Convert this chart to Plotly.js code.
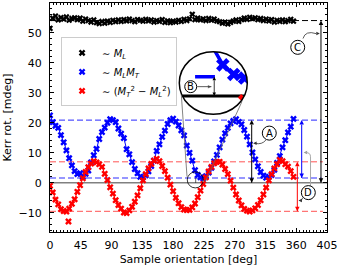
<!DOCTYPE html>
<html><head><meta charset="utf-8">
<script src="https://cdn.plot.ly/plotly-3.0.1.min.js"></script>
<style>html,body{margin:0;padding:0;background:#fff}#chart{width:340px;height:270px}</style>
</head><body><div id="chart"></div>
<script>
// ---- data ----
const angles = [0,4,8,12,16,20,24,28,32,36,40,44,48,52,56,60,64,68,72,76,80,84,88,92,96,100,104,108,112,116,120,124,128,132,136,140,144,148,152,156,160,164,168,172,176,180,184,188,192,196,200,204,208,212,216,220,224,228,232,236,240,244,248,252,256,260,264,268,272,276,280,284,288,292,296,300,304,308,312,316,320,324,328,332,336,340,344,348,352,356];
const kerrML = [51.5,54.9,55.6,54.3,55.1,54.6,55.3,54.2,54.8,55.0,
  54.4,54.9,53.9,54.6,54.1,53.6,54.3,53.4,53.1,53.8,
  53.2,53.9,53.5,54.2,53.7,54.3,53.8,54.4,54.0,54.6,
  54.1,53.7,54.4,54.2,53.9,54.5,54.0,54.3,53.6,54.1,
  53.8,54.4,53.5,54.0,53.4,53.9,53.6,54.2,53.8,54.5,
  54.1,54.7,56.2,54.4,54.9,54.3,54.7,54.1,54.8,54.2,
  54.6,54.0,53.7,53.2,53.6,53.0,53.5,53.9,54.3,53.8,
  54.4,54.9,54.5,55.2,54.7,55.0,54.4,54.8,54.1,54.6,
  54.0,54.4,53.6,54.2,53.8,54.3,53.7,54.1,54.5,53.9];
const kerrMLMT = [22.5,20.2,19.0,18.3,15.9,13.5,10.8,8.2,5.8,3.9,
  2.9,3.2,2.1,3.0,4.1,6.8,9.2,11.3,14.6,16.9,
  18.4,20.0,21.2,20.9,20.2,18.1,16.4,14.9,11.2,9.5,
  6.9,4.6,3.2,2.0,1.8,2.5,3.8,5.6,7.4,10.6,
  12.8,15.3,17.4,19.6,20.9,21.4,20.4,19.1,17.5,15.8,
  12.4,10.0,7.4,4.2,2.6,1.8,1.5,2.2,3.4,5.0,
  7.1,9.3,11.8,14.4,16.5,18.3,19.8,20.6,21.2,20.3,
  19.5,17.6,15.4,12.8,10.1,7.8,5.5,3.6,2.4,1.7,
  2.0,2.6,4.3,6.6,8.9,11.8,14.2,16.8,18.7,21.3];
const kerrQuad = [-1.0,-3.2,-5.6,-7.2,-8.8,-9.4,-9.6,-8.6,-7.0,-5.5,
  -3.0,-0.8,1.5,3.6,5.2,6.4,7.2,6.8,6.2,5.3,
  3.0,0.9,-1.5,-3.6,-5.8,-7.4,-8.6,-9.9,-10.1,-9.2,
  -8.0,-6.3,-4.2,-1.8,0.8,2.9,4.8,6.3,7.4,8.0,
  7.2,5.6,3.9,1.7,-0.6,-2.8,-5.0,-6.8,-8.1,-8.9,
  -9.1,-9.0,-8.2,-6.9,-4.8,-2.6,-0.4,1.8,3.8,5.3,
  6.5,7.0,7.0,6.1,4.6,2.9,0.7,-1.6,-3.9,-5.9,
  -7.5,-8.7,-9.3,-9.6,-9.2,-8.5,-7.4,-5.8,-3.9,-1.6,
  0.8,2.9,4.8,6.2,7.6,7.2,6.2,5.4,3.9,2.0];
const outlierAngle = [27];
const outlierQuad = [-12.9];
const levelML = 54.1, levelBlueMax = 20.9, levelBlueMin = 1.6, levelRedMax = 7.0, levelRedMin = -9.5;
const xTicks = [0,45,90,135,180,225,270,315,360,405];
const yTicks = [-10,0,10,20,30,40,50];
const seriesNames = ['∼ <i>M</i><sub><i>L</i></sub>',
  '∼ <i>M</i><sub><i>L</i></sub><i>M</i><sub><i>T</i></sub>',
  '∼ (<i>M</i><sub><i>T</i></sub><sup>2</sup> − <i>M</i><sub><i>L</i></sub><sup>2</sup>)'];
const seriesColors = ['#000000','#0000ff','#ff0000'];

// ---- geometry ----
const FONT = 'DejaVu Sans, sans-serif';
const inX = [0.4668, 0.7123], inY = [0.514, 0.7873];
const cx = (inX[0]+inX[1])/2, cy = (inY[0]+inY[1])/2, rx = (inX[1]-inX[0])/2, ry = (inY[1]-inY[0])/2;
const k = 0.5523;
const f = v => v.toFixed(5);
const ell = `M${f(cx+rx)},${f(cy)} C${f(cx+rx)},${f(cy+k*ry)} ${f(cx+k*rx)},${f(cy+ry)} ${f(cx)},${f(cy+ry)} `+
  `C${f(cx-k*rx)},${f(cy+ry)} ${f(cx-rx)},${f(cy+k*ry)} ${f(cx-rx)},${f(cy)} `+
  `C${f(cx-rx)},${f(cy-k*ry)} ${f(cx-k*rx)},${f(cy-ry)} ${f(cx)},${f(cy-ry)} `+
  `C${f(cx+k*rx)},${f(cy-ry)} ${f(cx+rx)},${f(cy-k*ry)} ${f(cx+rx)},${f(cy)} Z`;
const e = 0.003;
const rect = `M${f(inX[0]-e)},${f(inY[0]-e)} L${f(inX[1]+e)},${f(inY[0]-e)} L${f(inX[1]+e)},${f(inY[1]+e)} L${f(inX[0]-e)},${f(inY[1]+e)} Z `;

const mk = (c, s) => ({symbol:'x', size:s, color:c, line:{width:0}});
const traces = [
  {x:angles, y:kerrML, mode:'markers', marker:mk(seriesColors[0],5.5), showlegend:false},
  {x:angles, y:kerrMLMT, mode:'lines+markers', line:{color:seriesColors[1],width:1}, marker:mk(seriesColors[1],6), showlegend:false},
  {x:angles, y:kerrQuad, mode:'lines+markers', line:{color:seriesColors[2],width:1}, marker:mk(seriesColors[2],6), showlegend:false},
  {x:outlierAngle, y:outlierQuad, mode:'markers', marker:mk(seriesColors[2],6), showlegend:false},
  {x:angles, y:kerrMLMT, xaxis:'x2', yaxis:'y2', mode:'lines+markers', line:{color:seriesColors[1],width:3.5}, marker:mk(seriesColors[1],12), showlegend:false},
  {x:angles, y:kerrQuad, xaxis:'x2', yaxis:'y2', mode:'lines+markers', line:{color:seriesColors[2],width:3.5}, marker:mk(seriesColors[2],12), showlegend:false},
];

// arrows drawn as line traces with arrow-head markers (tip sits on the point)
const arrowTrace = (xs, ys, syms, color, width, size, xa, ya) => ({x:xs, y:ys, xaxis:xa||'x', yaxis:ya||'y',
  mode:'lines+markers', line:{color:color, width:width}, marker:{symbol:syms, size:size, color:color, line:{width:0}},
  showlegend:false, cliponaxis:false});
const vArrow = (x, y0, y1, color) => arrowTrace([x,x], [y0,y1], ['arrow-down','arrow-up'], color, 1, 4.5);
traces.push(
  vArrow(294.9, 0, levelBlueMax, 'black'),
  vArrow(368.0, levelBlueMin, levelBlueMax, '#0000ff'),
  vArrow(361.6, levelRedMin, levelRedMax, '#ff0000'),
  vArrow(396.2, 0, levelML, 'black'),
  // connector tips
  {x:[297.0], y:[13.17], mode:'markers', marker:{symbol:'arrow-left', size:3.5, color:'#333'}, showlegend:false},
  {x:[394.5], y:[49.74], mode:'markers', marker:{symbol:'arrow-right', size:3.5, color:'#333'}, showlegend:false},
  {x:[363.2], y:[-5.9], mode:'markers', marker:{symbol:'arrow-left', size:3.5, color:'#333'}, showlegend:false},
  {x:[370.8], y:[10.09], mode:'markers', marker:{symbol:'arrow-left', size:3.5, color:'#999'}, showlegend:false},
  // inset arrows (B)
  arrowTrace([212.84,212.84], [0,levelBlueMin], ['arrow-down','arrow-up'], 'black', 0.8, 3.5, 'x2', 'y2'),
  arrowTrace([206.6,211.8], [0.78,0.78], ['line-ns','arrow-right'], '#333', 0.8, 3.5, 'x2', 'y2')
);
traces[traces.length-1].marker.size = [0.1, 3.5];
seriesNames.forEach((n,i)=>traces.push({x:[null], y:[null], mode:'markers', name:n, marker:mk(seriesColors[i],6)}));

const hl = (y, x0, x1, color, width, dash, layer) => ({type:'line', xref:'x', yref:'y', x0:x0, x1:x1, y0:y, y1:y, line:{color:color, width:width, dash:dash}, layer:layer||'below'});
const circ = (xc, yc, dx, dy, xr, yr, w) => ({type:'circle', xref:xr||'x', yref:yr||'y', x0:xc-dx, x1:xc+dx, y0:yc-dy, y1:yc+dy, line:{color:'black', width:w||1}, fillcolor:'white', layer:'above'});
const DASH = '6px,3px';
const shapes = [
  hl(0, 0, 405, '#808080', 1.5, 'solid'),
  hl(levelML, 0, 398, 'black', 1, DASH),
  hl(levelBlueMax, 0, 397, 'rgb(40,40,255)', 1, DASH),
  hl(levelBlueMin, 0, 397, 'rgba(80,80,255,0.6)', 2, DASH),
  hl(levelRedMax, 0, 399, 'rgba(255,40,40,0.8)', 1, DASH),
  hl(levelRedMin, 0, 399, 'rgba(255,40,40,0.8)', 1, DASH),
  // inset content
  {type:'line', xref:'x2', yref:'y2', x0:190, x1:235, y0:0, y1:0, line:{color:'black', width:3}, layer:'below'},
  {type:'line', xref:'x2', yref:'y2', x0:205.8, x1:213.1, y0:levelBlueMin, y1:levelBlueMin, line:{color:'#0000ff', width:3.5}, layer:'below'},
  // mask outside the magnifier circle
  {type:'path', xref:'paper', yref:'paper', path: rect + ell, fillrule:'evenodd', fillcolor:'white', line:{width:0}, layer:'above'},
  {type:'circle', xref:'paper', yref:'paper', x0:cx-rx, x1:cx+rx, y0:cy-ry, y1:cy+ry, line:{color:'black', width:1.5}, layer:'above'},
  // connector lines magnifier -> small circle
  {type:'line', xref:'x', yref:'y', x0:192.0, y0:29.4, x1:200.3, y1:2.1, line:{color:'#666', width:0.8}, layer:'above'},
  {type:'line', xref:'x', yref:'y', x0:280.7, y0:27.1, x1:227.1, y1:0.4, line:{color:'#666', width:0.8}, layer:'above'},
  {type:'circle', xref:'x', yref:'y', x0:200.7, x1:224.1, y0:-1.7, y1:3.64, line:{color:'black', width:0.8}, layer:'above'},
  {type:'line', xref:'x', yref:'y', x0:213, x1:213, y0:0, y1:levelBlueMin, line:{color:'black', width:0.6}, layer:'above'},
  // curved connectors
  {type:'path', xref:'x', yref:'y', path:'M315.8,14.3 Q310,12.6 299.5,13.17', line:{color:'#333', width:0.8}, layer:'above'},
  {type:'path', xref:'x', yref:'y', path:'M369.9,48.1 Q373.5,50.9 389,49.74', line:{color:'#333', width:0.8}, layer:'above'},
  {type:'path', xref:'x', yref:'y', path:'M369.9,-4.9 Q367.5,-6.1 365.5,-5.9', line:{color:'#333', width:0.8}, layer:'above'},
  {type:'path', xref:'x', yref:'y', path:'M380.9,-1.0 L380.9,8.66 Q380.9,10.1 374,10.09', line:{color:'#aaaaaa', width:1}, layer:'above'},
  // label circles
  circ(320.6, 16.57, 10.2, 2.34),
  circ(362.2, 45.17, 10.2, 2.34),
  circ(377.7, -3.27, 10.2, 2.34),
  circ(204.2, 0.78, 2.2, 0.5, 'x2', 'y2', 1),
];

const lab = (t, x, y, xr, yr) => ({x:x, y:y, xref:xr||'x', yref:yr||'y', text:t, showarrow:false, font:{family:FONT, size:10, color:'black'}, xanchor:'center', yanchor:'middle'});
const annotations = [
  lab('A', 320.6, 16.57), lab('C', 362.2, 45.17), lab('D', 377.7, -3.27),
  lab('B', 204.2, 0.78, 'x2', 'y2'),
];

const axBase = {ticks:'inside', ticklen:4, tickwidth:1, tickcolor:'black', mirror:'allticks', showline:true, linecolor:'black', linewidth:1,
  showgrid:false, zeroline:false, tickfont:{family:FONT, size:11, color:'black'}};
const layout = {
  width:340, height:270, margin:{l:50, r:13, t:3, b:38},
  paper_bgcolor:'white', plot_bgcolor:'white', font:{family:FONT, size:11, color:'black'},
  xaxis: Object.assign({}, axBase, {range:[0,405], tickmode:'array', tickvals:xTicks, ticklabelstandoff:3,
    minor:{ticks:'inside', ticklen:2, tickmode:'linear', tick0:0, dtick:5, tickcolor:'black', showgrid:false},
    title:{text:'Sample orientation [deg]', font:{family:FONT, size:11}, standoff:4}}),
  yaxis: Object.assign({}, axBase, {range:[-16.4,59.95], tickmode:'array', tickvals:yTicks, ticklabelstandoff:5,
    minor:{ticks:'inside', ticklen:2, tickmode:'linear', tick0:0, dtick:2, tickcolor:'black', showgrid:false},
    title:{text:'Kerr rot. [mdeg]', font:{family:FONT, size:11}, standoff:4}}),
  xaxis2:{domain:inX, anchor:'y2', range:[200,225], visible:false, showgrid:false, zeroline:false},
  yaxis2:{domain:inY, anchor:'x2', range:[-1.53,3.70], visible:false, showgrid:false, zeroline:false},
  showlegend:true,
  legend:{x:0.04, y:0.85, xanchor:'left', yanchor:'top', bgcolor:'white', bordercolor:'#cccccc', borderwidth:1,
    font:{family:FONT, size:10, color:'black'}, itemwidth:30, tracegroupgap:0},
  shapes:shapes, annotations:annotations,
};
Plotly.newPlot('chart', traces, layout, {staticPlot:true, displayModeBar:false});
</script></body></html>
